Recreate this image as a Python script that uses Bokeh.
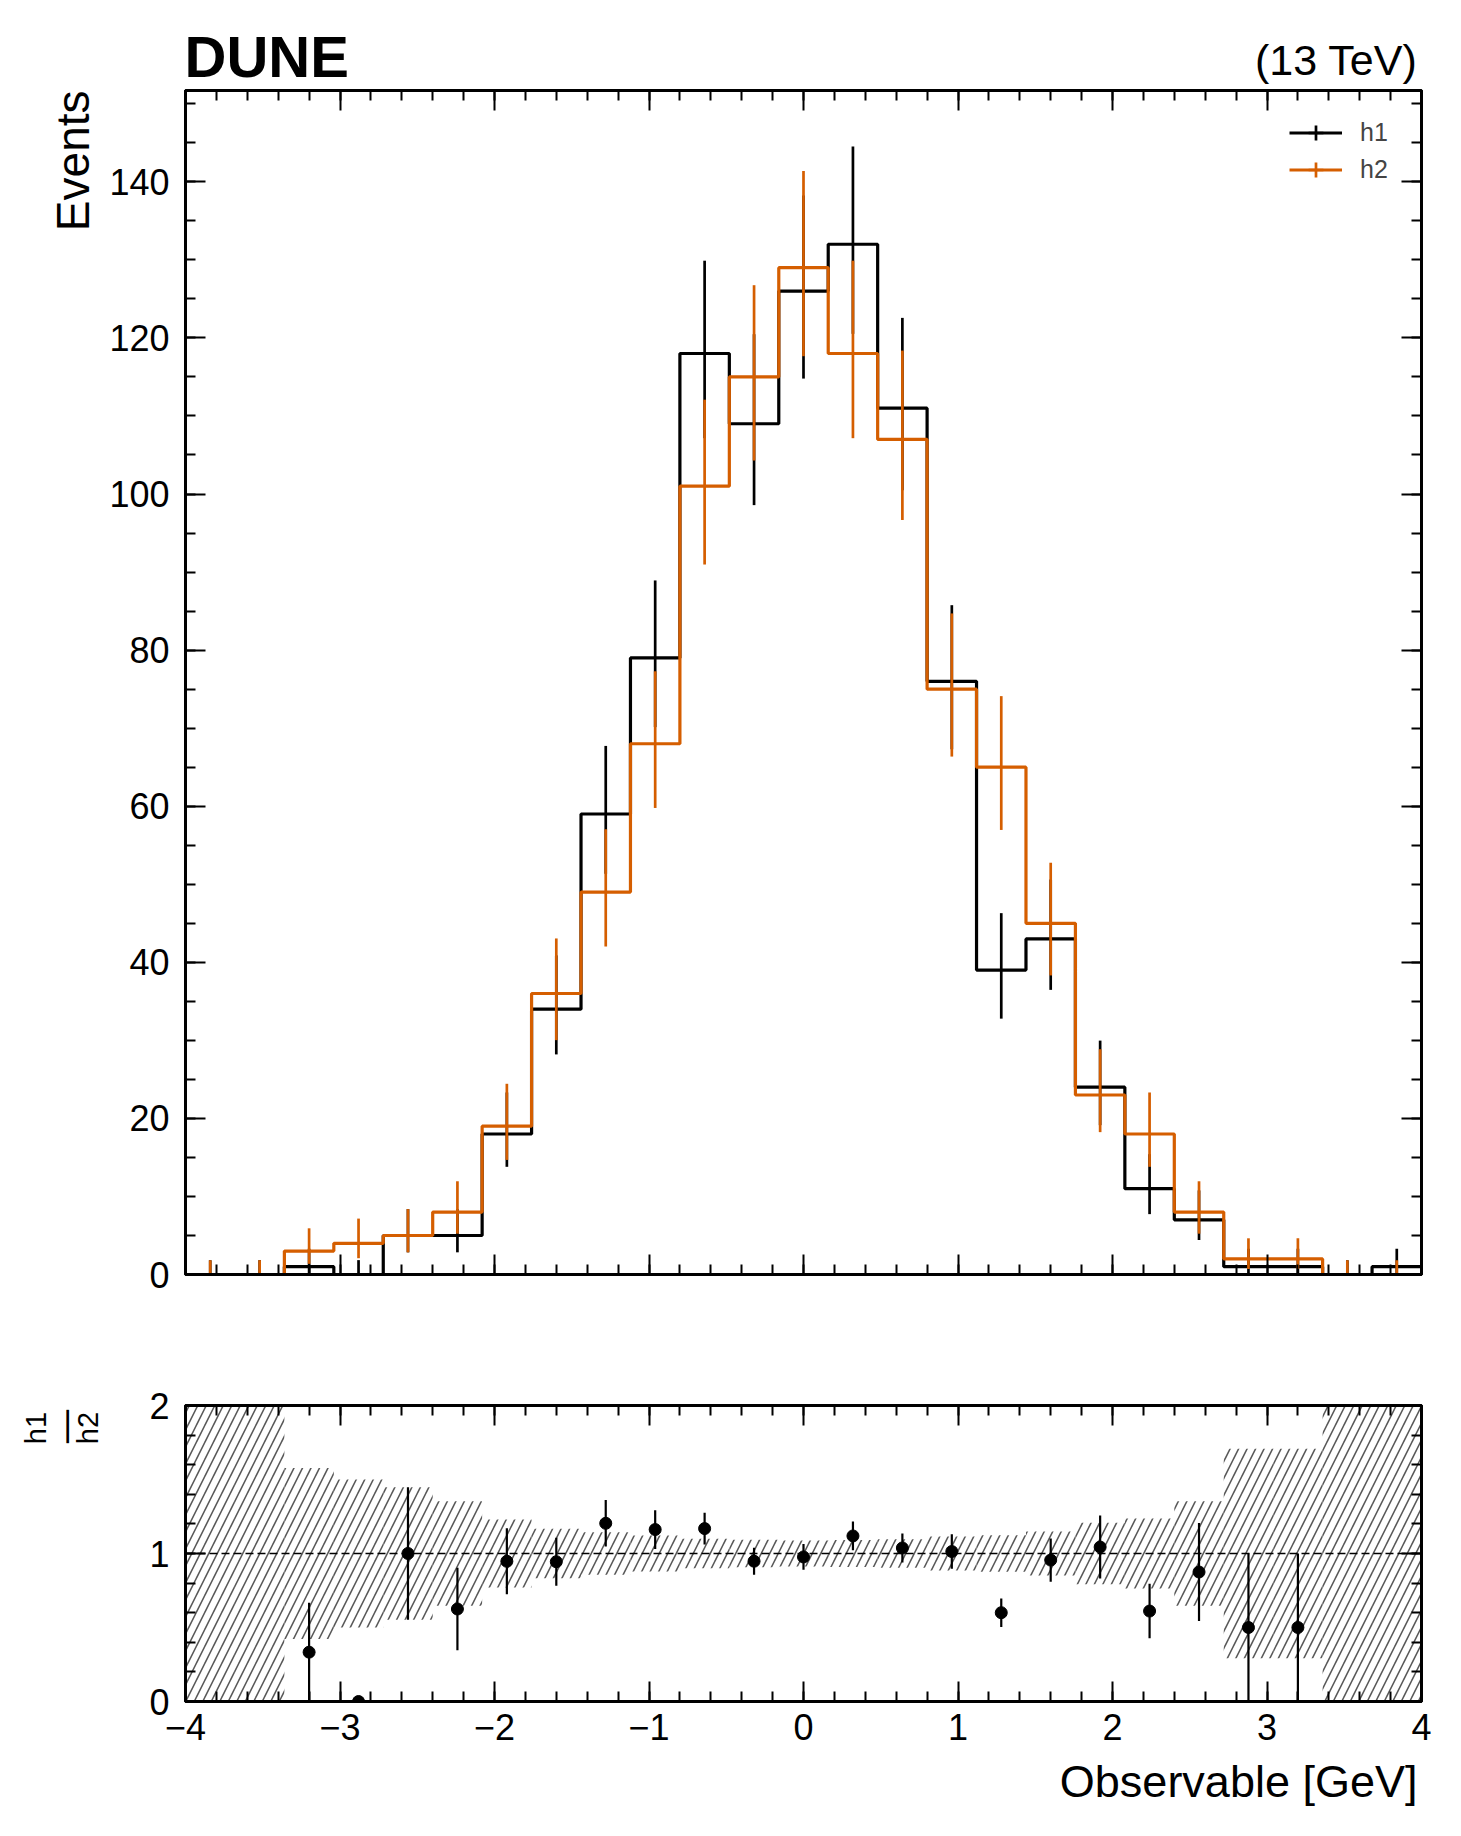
import math
import numpy as np
from bokeh.plotting import figure
from bokeh.layouts import column, row
from bokeh.models import (Range1d, SingleIntervalTicker, LinearAxis, Label, Span,
                          Legend, LegendItem, CustomJSTickFormatter, ColumnDataSource)
from bokeh.embed import file_html
from bokeh.resources import INLINE

# ---------------- data ----------------
bin_edges = [-4.00, -3.68, -3.36, -3.04, -2.72, -2.40, -2.08, -1.76, -1.44, -1.12,
             -0.80, -0.48, -0.16, 0.16, 0.48, 0.80, 1.12, 1.44, 1.76, 2.08,
             2.40, 2.72, 3.04, 3.36, 3.68, 4.00]
h1_counts = [0, 0, 1, 0, 5, 5, 18, 34, 59, 79, 118, 109, 126, 132, 111, 76, 39, 43,
             24, 11, 7, 1, 1, 0, 1]
h2_counts = [0, 0, 3, 4, 5, 8, 19, 36, 49, 68, 101, 115, 129, 118, 107, 75, 65, 45,
             23, 18, 8, 2, 2, 0, 0]
series_names = ["h1", "h2"]
x_label = "Observable [GeV]"
y_label = "Events"
ratio_label = ["h1", "h2"]
experiment = "DUNE"
energy = "(13 TeV)"

X_MIN, X_MAX = -4.0, 4.0
Y_MAX = 151.7
R_MIN, R_MAX = 0.0, 2.0

H1_COLOR = "black"
H2_COLOR = "#d55e00"
FONT = "Liberation Sans"

# layout (pixels)
HDR_H = 88
SIDE_W = 106
AX_W = 78
FRAME_W = 1236
RIGHT_B = 35
MAIN_TOP, MAIN_H, MAIN_BOT = 2, 1184, 66
RAT_TOP, RAT_H, RAT_BOT = 65, 296, 55
FTR_H = 70
SIDE_H = MAIN_TOP + MAIN_H + MAIN_BOT + RAT_TOP + RAT_H + RAT_BOT


# ---------------- Poisson (Garwood) intervals ----------------
def _p_lower(a, x):
    if x <= 0:
        return 0.0
    if x < a + 1:
        ap, s = a, 1.0 / a
        d = s
        for _ in range(2000):
            ap += 1
            d *= x / ap
            s += d
            if abs(d) < abs(s) * 1e-15:
                break
        return s * math.exp(-x + a * math.log(x) - math.lgamma(a))
    b = x + 1 - a
    c = 1e300
    d = 1.0 / b
    h = d
    for i in range(1, 2000):
        an = -i * (i - a)
        b += 2
        d = an * d + b
        if abs(d) < 1e-300:
            d = 1e-300
        c = b + an / c
        if abs(c) < 1e-300:
            c = 1e-300
        d = 1.0 / d
        delta = d * c
        h *= delta
        if abs(delta - 1) < 1e-15:
            break
    return 1.0 - math.exp(-x + a * math.log(x) - math.lgamma(a)) * h


def _gamma_ppf(q, a):
    if a <= 0:
        return 0.0
    lo, hi = 0.0, a + 20 * math.sqrt(a) + 20
    for _ in range(200):
        mid = 0.5 * (lo + hi)
        if _p_lower(a, mid) < q:
            lo = mid
        else:
            hi = mid
    return 0.5 * (lo + hi)


def poisson_interval(counts):
    ql = (1 - 0.682689492) / 2
    lo = [_gamma_ppf(ql, n) for n in counts]
    hi = [_gamma_ppf(1 - ql, n + 1) for n in counts]
    return np.array(lo), np.array(hi)


edges = np.array(bin_edges)
centers = 0.5 * (edges[:-1] + edges[1:])
h1 = np.array(h1_counts, dtype=float)
h2 = np.array(h2_counts, dtype=float)
h1_lo, h1_hi = poisson_interval(h1_counts)
h2_lo, h2_hi = poisson_interval(h2_counts)

pos = h2 > 0
ratio = np.full_like(h1, np.nan)
ratio[pos] = h1[pos] / h2[pos]
ratio_err = np.full_like(h1, np.nan)
ratio_err[pos] = np.sqrt(h1[pos]) / h2[pos]
rel = np.full_like(h2, np.inf)
rel[pos] = 1.0 / np.sqrt(h2[pos])
band_lo = np.clip(1 - rel, R_MIN, R_MAX)
band_hi = np.clip(1 + rel, R_MIN, R_MAX)


# ---------------- helpers ----------------
blank_fmt = "return '';"
minus_fmt = "return (tick < 0 ? '\u2212' : '') + Math.abs(tick).toFixed(0);"


def style_axis(ax, labels=True, standoff=16):
    ax.axis_line_color = "black"
    ax.axis_line_width = 3
    ax.major_tick_in = 20
    ax.major_tick_out = 0
    ax.minor_tick_in = 10
    ax.minor_tick_out = 0
    ax.major_tick_line_width = 2
    ax.minor_tick_line_width = 2
    ax.major_tick_line_color = "black"
    ax.minor_tick_line_color = "black"
    ax.major_label_text_font = FONT
    ax.major_label_text_color = "black"
    if labels:
        ax.major_label_text_font_size = "36px"
        ax.major_label_standoff = standoff
    else:
        ax.formatter = CustomJSTickFormatter(code=blank_fmt)
        ax.major_label_text_font_size = "1px"
        ax.major_label_standoff = 0
    ax.axis_label = None


def blank_fig(fw, fh, xr, yr, left=0, right=0):
    f = figure(x_range=xr, y_range=yr, frame_width=fw, frame_height=fh,
               min_border_left=left, min_border_right=right,
               min_border_top=0, min_border_bottom=0,
               x_axis_type=None, y_axis_type=None,
               output_backend="svg", toolbar_location=None,
               background_fill_color="white", border_fill_color="white")
    f.outline_line_color = None
    f.xgrid.visible = False
    f.ygrid.visible = False
    return f


def txt(f, x, y, text, size, align="left", angle=0.0, font=FONT, style="normal",
        x_offset=0, y_offset=0, baseline="alphabetic"):
    f.add_layout(Label(x=x, y=y, x_offset=x_offset, y_offset=y_offset, text=text,
                       angle=angle, text_font=font, text_font_size=size,
                       text_font_style=style, text_align=align,
                       text_baseline=baseline, text_color="black"))


x_range = Range1d(X_MIN, X_MAX)

# ---------------- main panel ----------------
p = figure(x_range=x_range, y_range=Range1d(0, Y_MAX),
           frame_width=FRAME_W, frame_height=MAIN_H,
           min_border_left=AX_W, min_border_right=RIGHT_B,
           min_border_top=MAIN_TOP, min_border_bottom=MAIN_BOT,
           output_backend="svg", toolbar_location=None,
           background_fill_color="white", border_fill_color="white")
p.xgrid.visible = False
p.ygrid.visible = False
p.outline_line_color = "black"
p.outline_line_width = 3

p.xaxis.ticker = SingleIntervalTicker(interval=1, num_minor_ticks=5)
p.yaxis.ticker = SingleIntervalTicker(interval=20, num_minor_ticks=4)
style_axis(p.xaxis[0], labels=False)
style_axis(p.yaxis[0], labels=True, standoff=16)
ax_r = LinearAxis(ticker=SingleIntervalTicker(interval=20, num_minor_ticks=4))
ax_t = LinearAxis(ticker=SingleIntervalTicker(interval=1, num_minor_ticks=5))
style_axis(ax_r, labels=False)
style_axis(ax_t, labels=False)
p.add_layout(ax_r, "right")
p.add_layout(ax_t, "above")

src1 = ColumnDataSource(dict(x=edges, y=np.append(h1, h1[-1])))
src2 = ColumnDataSource(dict(x=edges, y=np.append(h2, h2[-1])))
e1 = ColumnDataSource(dict(x=centers, lo=h1_lo, hi=h1_hi))
e2 = ColumnDataSource(dict(x=centers, lo=h2_lo, hi=h2_hi))

r1 = p.step("x", "y", source=src1, mode="after", line_color=H1_COLOR, line_width=3.2)
p.segment(x0="x", y0="lo", x1="x", y1="hi", source=e1, line_color=H1_COLOR, line_width=2.7)
r2 = p.step("x", "y", source=src2, mode="after", line_color=H2_COLOR, line_width=3.2)
p.segment(x0="x", y0="lo", x1="x", y1="hi", source=e2, line_color=H2_COLOR, line_width=2.7)

# legend-only renderers (a single NaN point, never drawn in the plot area)
proxy1 = p.scatter(x=[np.nan], y=[np.nan], marker="cross", size=15,
                   line_color=H1_COLOR, line_width=2.7)
proxy2 = p.scatter(x=[np.nan], y=[np.nan], marker="cross", size=15,
                   line_color=H2_COLOR, line_width=2.7)

legend = Legend(items=[LegendItem(label=series_names[0], renderers=[r1, proxy1]),
                       LegendItem(label=series_names[1], renderers=[r2, proxy2])],
                location=(1104, 1086), glyph_width=53, glyph_height=37,
                label_height=37, spacing=0, label_standoff=18, padding=0, margin=0,
                border_line_color=None, background_fill_alpha=0,
                label_text_font=FONT, label_text_font_size="25px")
p.add_layout(legend)

# ---------------- ratio panel ----------------
r = figure(x_range=x_range, y_range=Range1d(R_MIN, R_MAX),
           frame_width=FRAME_W, frame_height=RAT_H,
           min_border_left=AX_W, min_border_right=RIGHT_B,
           min_border_top=RAT_TOP, min_border_bottom=RAT_BOT,
           output_backend="svg", toolbar_location=None,
           background_fill_color="white", border_fill_color="white")
r.xgrid.visible = False
r.ygrid.visible = False
r.outline_line_color = "black"
r.outline_line_width = 3
r.xaxis.ticker = SingleIntervalTicker(interval=1, num_minor_ticks=5)
r.yaxis.ticker = SingleIntervalTicker(interval=1, num_minor_ticks=5)
style_axis(r.xaxis[0], labels=True, standoff=12)
r.xaxis.formatter = CustomJSTickFormatter(code=minus_fmt)
style_axis(r.yaxis[0], labels=True, standoff=16)
rax_r = LinearAxis(ticker=SingleIntervalTicker(interval=1, num_minor_ticks=5))
rax_t = LinearAxis(ticker=SingleIntervalTicker(interval=1, num_minor_ticks=5))
style_axis(rax_r, labels=False)
style_axis(rax_t, labels=False)
r.add_layout(rax_r, "right")
r.add_layout(rax_t, "above")

band = ColumnDataSource(dict(left=edges[:-1], right=edges[1:], bottom=band_lo, top=band_hi))
r.quad(left="left", right="right", bottom="bottom", top="top", source=band,
       fill_color="white", fill_alpha=0, line_color=None,
       hatch_pattern="/", hatch_color="#5a5a5a", hatch_weight=1.6, hatch_scale=17)

r.add_layout(Span(location=1, dimension="width", line_color="black", line_width=1.6,
                  line_dash="8 4"))

rs = ColumnDataSource(dict(x=centers, y=ratio, lo=ratio - ratio_err, hi=ratio + ratio_err))
r.segment(x0="x", y0="lo", x1="x", y1="hi", source=rs, line_color="black", line_width=2.2)
r.scatter("x", "y", source=rs, size=12, color="black")

# ---------------- text panels ----------------
hdr = blank_fig(FRAME_W, HDR_H, x_range, Range1d(0, HDR_H), left=SIDE_W + AX_W, right=RIGHT_B)
txt(hdr, X_MIN, 32.5, experiment, "58px", align="left", style="bold")
txt(hdr, X_MAX, 29, energy, "43px", align="right", x_offset=-3)

side = blank_fig(SIDE_W, SIDE_H, Range1d(0, SIDE_W), Range1d(0, SIDE_H))


def side_y(page_y):
    return SIDE_H - (page_y - HDR_H)


txt(side, 72, side_y(90), y_label, "46px", align="right", angle=math.pi / 2)
txt(side, 35, side_y(1427.5), ratio_label[0], "29px", align="center", angle=math.pi / 2)
txt(side, 87, side_y(1427.5), ratio_label[1], "29px", align="center", angle=math.pi / 2)
txt(side, 65, side_y(1426), "\u2014", "37px", align="center", angle=math.pi / 2,
    font="DejaVu Sans")

ftr = blank_fig(FRAME_W, FTR_H, x_range, Range1d(0, FTR_H), left=SIDE_W + AX_W, right=RIGHT_B)
txt(ftr, X_MAX, 45, x_label, "45px", align="right", x_offset=-3)

layout = column(hdr, row(side, column(p, r, spacing=0), spacing=0), ftr, spacing=0)
open("out.html", "w").write(file_html(layout, INLINE))
